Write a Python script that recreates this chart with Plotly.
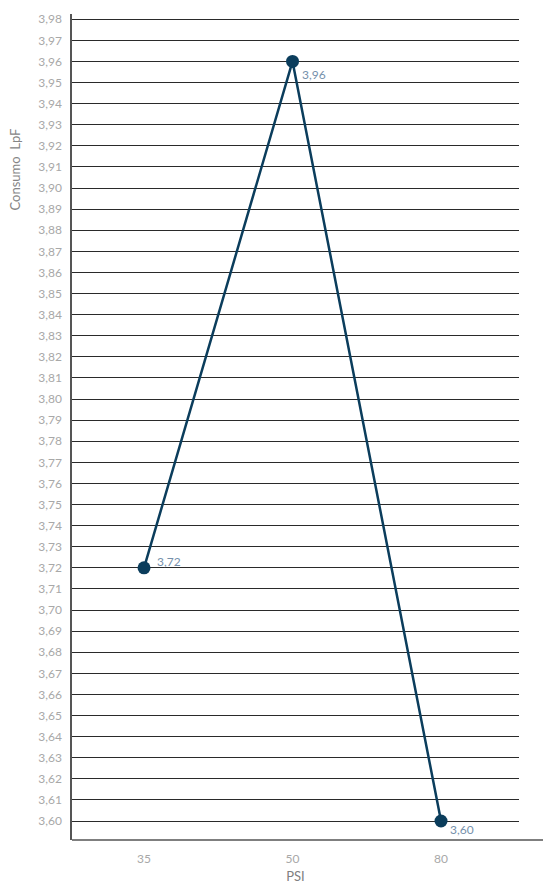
import plotly.graph_objects as go

psi = ["35", "50", "80"]
consumo = [3.72, 3.96, 3.60]
label_text = ["3,72", "3,96", "3,60"]
label_xshift = [11, 7, 7]
label_yshift = [6, -13, -8]

line_color = "#0b3d5c"

fig = go.Figure()
fig.add_trace(go.Scatter(
    x=psi, y=consumo, mode="lines+markers",
    line=dict(color=line_color, width=2.5),
    marker=dict(color=line_color, size=13),
    hoverinfo="skip", showlegend=False,
))

for i, (yv, t, xs, ys) in enumerate(zip(consumo, label_text, label_xshift, label_yshift)):
    fig.add_annotation(x=i, y=yv, text=t, showarrow=False,
                       xanchor="left", yanchor="middle", xshift=xs, yshift=ys,
                       font=dict(family="Lato", size=12, color="#7590ab"))

# extended bottom axis line
fig.add_shape(type="line", xref="paper", yref="paper", x0=0, x1=1.06, y0=0, y1=0,
              line=dict(color="#555555", width=1.5))

fig.add_annotation(xref="paper", yref="paper", x=-0.127, y=0.812, text="Consumo  LpF",
                   textangle=-90, showarrow=False, xanchor="center", yanchor="middle",
                   font=dict(family="Lato", size=13, color="#858585"))

fig.update_layout(
    width=543, height=886,
    margin=dict(l=72, r=24, t=14, b=46, autoexpand=False),
    paper_bgcolor="white", plot_bgcolor="white",
    separators=", ",
    font=dict(family="Lato", color="#999999"),
    xaxis=dict(type="category", range=[-0.485, 2.525], showgrid=False, automargin=False,
               showline=False, ticks="", zeroline=False, ticklabelstandoff=10,
               tickfont=dict(size=12, color="#a8a8a8"),
               title=dict(text="PSI", font=dict(size=13, color="#808080"), standoff=6)),
    yaxis=dict(range=[3.591, 3.9825], dtick=0.01, tick0=3.6, tickformat=".2f",
               automargin=False,
               showgrid=True, gridcolor="#2a2a2a", gridwidth=1,
               showline=True, linecolor="#555555", linewidth=1.5,
               zeroline=False, ticks="", ticklabelstandoff=6,
               tickfont=dict(size=12, color="#a8a8a8")),
)

fig.write_html("out.html", config={"displayModeBar": False},
               post_script="document.body.style.margin='0';")
